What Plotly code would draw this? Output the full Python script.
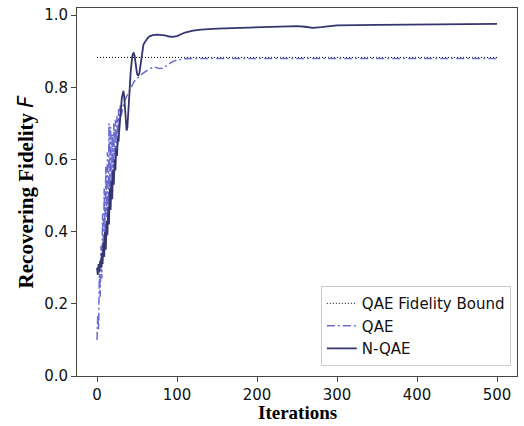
import plotly.graph_objects as go

# ---- data ----
bound_x = [0, 500]
bound_y = [0.883, 0.883]

qae_x = [0, 1, 2, 3, 4, 5, 6, 7, 8, 9, 10, 11, 12, 13, 14, 15, 16, 17, 18, 19,
         20, 21, 22, 23, 24, 25, 26, 27, 28, 29, 30, 32, 34, 36, 38, 40, 43, 46,
         50, 54, 58, 62, 66, 70, 74, 78, 82, 86, 90, 95, 100, 110, 120, 150, 200,
         250, 300, 350, 400, 450, 500]
qae_y = [0.10, 0.17, 0.13, 0.30, 0.22, 0.36, 0.27, 0.45, 0.33, 0.52, 0.38, 0.58,
         0.44, 0.62, 0.47, 0.70, 0.52, 0.69, 0.50, 0.67, 0.56, 0.70, 0.58, 0.71,
         0.62, 0.72, 0.64, 0.74, 0.68, 0.75, 0.72, 0.74, 0.76, 0.77, 0.78, 0.79,
         0.80, 0.815, 0.825, 0.833, 0.84, 0.846, 0.852, 0.856, 0.855, 0.852, 0.853,
         0.858, 0.865, 0.872, 0.876, 0.879, 0.880, 0.880, 0.880, 0.880, 0.880,
         0.880, 0.880, 0.880, 0.880]

nqae_x = [0, 1, 2, 3, 4, 5, 6, 7, 8, 9, 10, 11, 12, 13, 14, 15, 16, 17, 18, 19,
          20, 21, 22, 23, 24, 25, 26, 27, 28, 29, 30, 31, 32, 33, 34, 35, 36, 37,
          38, 39, 40, 41, 42, 43, 44, 45, 46, 47, 48, 49, 50, 51, 52, 53, 54, 55,
          56, 57, 58, 60, 63, 66, 70, 75, 80, 85, 90, 95, 100, 105, 110, 120, 130,
          150, 175, 200, 225, 250, 260, 270, 280, 290, 300, 350, 400, 450, 500]
nqae_y = [0.30, 0.28, 0.31, 0.29, 0.32, 0.30, 0.34, 0.31, 0.37, 0.33, 0.40, 0.35,
          0.43, 0.39, 0.47, 0.42, 0.52, 0.46, 0.54, 0.49, 0.57, 0.53, 0.60, 0.57,
          0.63, 0.61, 0.66, 0.65, 0.69, 0.71, 0.74, 0.77, 0.785, 0.79, 0.775, 0.74,
          0.70, 0.68, 0.69, 0.72, 0.76, 0.80, 0.84, 0.87, 0.885, 0.893, 0.895,
          0.888, 0.87, 0.85, 0.838, 0.834, 0.834, 0.84, 0.855, 0.875, 0.895, 0.91,
          0.918, 0.926, 0.936, 0.942, 0.945, 0.946, 0.946, 0.944, 0.941, 0.940,
          0.942, 0.947, 0.952, 0.957, 0.960, 0.963, 0.965, 0.967, 0.969, 0.970,
          0.968, 0.965, 0.967, 0.970, 0.972, 0.973, 0.974, 0.975, 0.976]

x_ticks = [0, 100, 200, 300, 400, 500]
y_ticks = [0.0, 0.2, 0.4, 0.6, 0.8, 1.0]

QAE_COLOR = "#6b6bd0"
NQAE_COLOR = "#35356f"
TICK_FONT = dict(family="DejaVu Sans", size=15, color="#111111")
TITLE_FONT = dict(family="Liberation Serif", size=21, color="#000000")

fig = go.Figure()
fig.add_trace(go.Scatter(x=bound_x, y=bound_y, mode="lines", name="QAE Fidelity Bound",
                         line=dict(color="black", width=1, dash="1px,2px")))
fig.add_trace(go.Scatter(x=qae_x, y=qae_y, mode="lines", name="QAE",
                         line=dict(color=QAE_COLOR, width=1.5, dash="8px,3px,2px,3px")))
fig.add_trace(go.Scatter(x=nqae_x, y=nqae_y, mode="lines", name="N-QAE",
                         line=dict(color=NQAE_COLOR, width=1.8)))

axis_common = dict(showgrid=False, zeroline=False, showline=True, mirror=True,
                   linecolor="#444444", linewidth=1, ticks="outside", ticklen=5,
                   tickwidth=1, tickcolor="#444444", tickfont=TICK_FONT)

fig.update_layout(
    width=524, height=426,
    margin=dict(l=77, r=7, t=8, b=50, autoexpand=False),
    paper_bgcolor="white", plot_bgcolor="white",
    showlegend=True,
    legend=dict(x=0.986, y=0.027, xanchor="right", yanchor="bottom",
                bgcolor="white", bordercolor="#cccccc", borderwidth=1,
                font=dict(family="DejaVu Sans", size=15, color="#111111"),
                tracegroupgap=0),
    xaxis=dict(range=[-25, 525], tickvals=x_ticks, **axis_common),
    yaxis=dict(range=[0, 1.02], tickvals=y_ticks, tickformat=".1f",
               title=dict(text="<b>Recovering Fidelity </b><span style='font-family:DejaVu Sans'><i>F</i></span>",
                          font=TITLE_FONT, standoff=4),
               **axis_common),
)

fig.add_annotation(text="<b>Iterations</b>", font=dict(family="Liberation Serif", size=19, color="#000000"),
                   showarrow=False, borderpad=0,
                   xref="paper", yref="paper", x=0.5, y=0, xanchor="center",
                   yanchor="top", yshift=-25)

fig.write_html("out.html")
